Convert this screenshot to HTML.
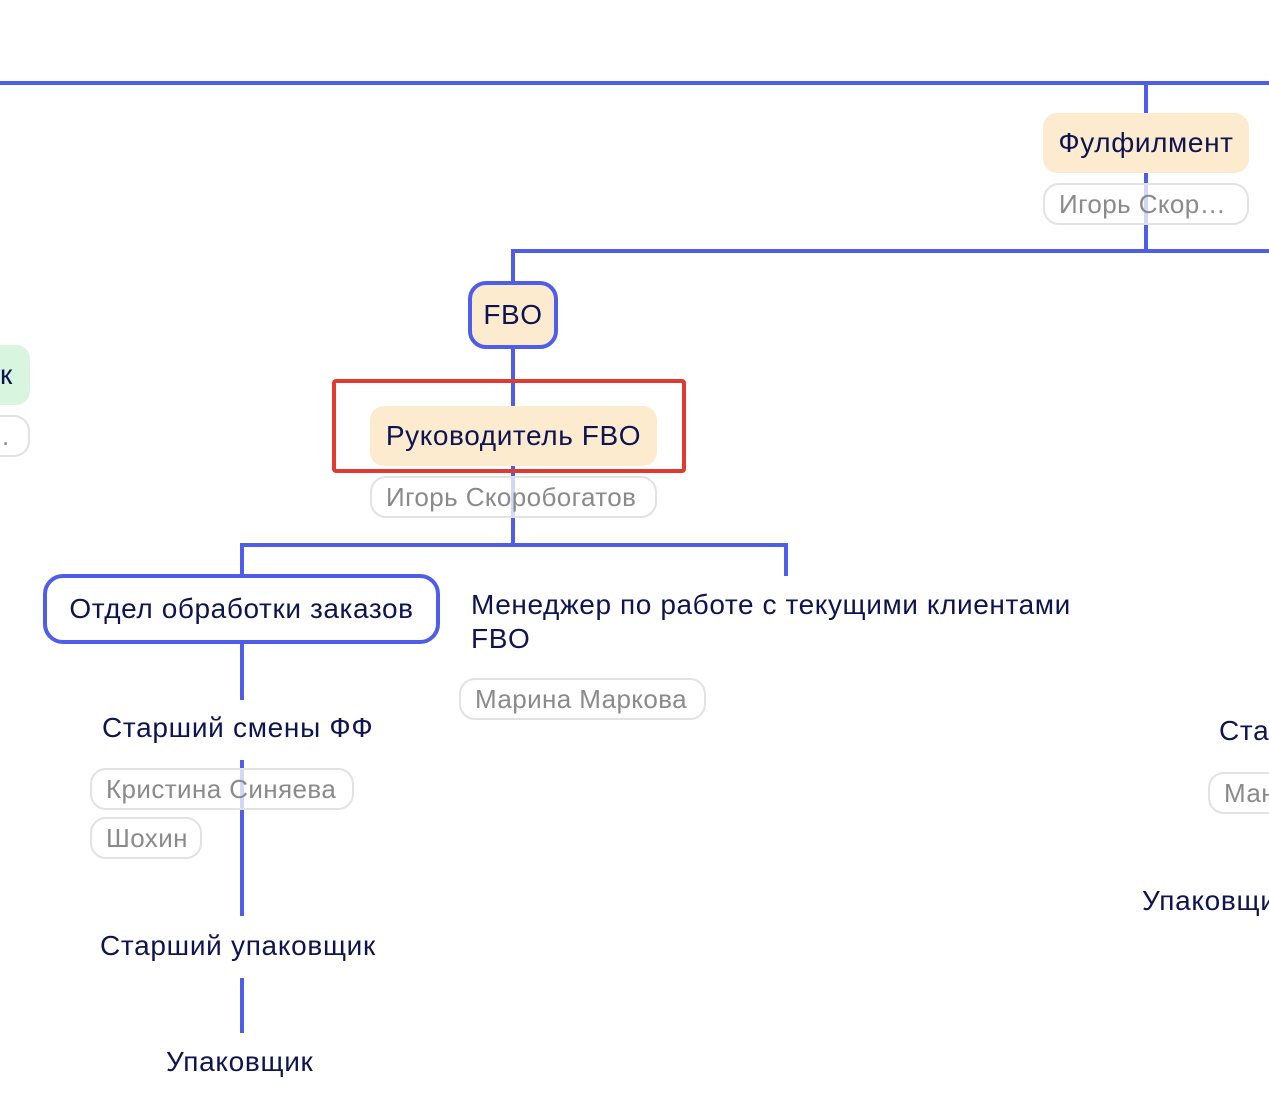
<!DOCTYPE html>
<html><head><meta charset="utf-8"><style>
body{margin:0;width:1269px;height:1118px;background:#fff;position:relative;overflow:hidden;font-family:"Liberation Sans","Noto Sans CJK SC",sans-serif;color:#0d1450}
.l{position:absolute;background:#4f5ee8}
.a{position:absolute;white-space:nowrap}
.n{position:absolute;background:#fdebd0;border-radius:14px;font-size:28px;letter-spacing:0.6px;display:flex;align-items:center;justify-content:center;white-space:nowrap}
.p{position:absolute;border:2px solid #e2e2e2;border-radius:16px;background:rgba(255,255,255,.75);color:#8a8a8a;font-size:26px;letter-spacing:0.4px;display:flex;align-items:center;padding:0 14px;box-sizing:border-box;white-space:nowrap;height:42px;overflow:hidden}
.t{position:absolute;font-size:28px;letter-spacing:0.7px;white-space:nowrap;background:#fff}
</style></head><body>
<div class="l" style="left:0;top:81px;width:1269px;height:4px"></div>
<div class="l" style="left:1144px;top:81px;width:4px;height:171px"></div>
<div class="l" style="left:511px;top:249px;width:758px;height:4px"></div>
<div class="l" style="left:511px;top:249px;width:4px;height:296px"></div>
<div class="l" style="left:240px;top:543px;width:547px;height:4px"></div>
<div class="l" style="left:784px;top:543px;width:4px;height:33px"></div>
<div class="l" style="left:240px;top:543px;width:4px;height:157px"></div>
<div class="l" style="left:240px;top:760px;width:4px;height:156px"></div>
<div class="l" style="left:240px;top:978px;width:4px;height:55px"></div>

<div class="n" style="left:1043px;top:113px;width:206px;height:60px">Фулфилмент</div>
<div class="p" style="left:1043px;top:183px;width:206px">Игорь Скор…</div>

<div class="n" style="left:0;top:345px;width:30px;height:60px;background:#d8f5df;border-radius:0 14px 14px 0;justify-content:flex-start;padding-left:0;box-sizing:border-box">к</div>
<div class="p" style="left:0;top:415px;width:30px;border-left:none;border-radius:0 16px 16px 0;padding:0 0 0 2px">.</div>

<div class="n" style="left:468px;top:281px;width:90px;height:68px;border:4px solid #4f5ee8;box-sizing:border-box;border-radius:18px">FBO</div>

<div class="n" style="left:370px;top:406px;width:287px;height:60px">Руководитель FBO</div>
<div style="position:absolute;left:332px;top:379px;width:354px;height:94px;border:4px solid #e23a30;border-radius:4px;box-sizing:border-box"></div>
<div class="p" style="left:370px;top:476px;width:287px">Игорь Скоробогатов</div>

<div class="a" style="left:43px;top:574px;width:397px;height:70px;border:4px solid #4f5ee8;border-radius:20px;box-sizing:border-box;background:#fff;font-size:28px;letter-spacing:0.6px;display:flex;align-items:center;justify-content:center">Отдел обработки заказов</div>

<div class="a" style="left:471px;top:588px;font-size:28px;letter-spacing:0.6px;line-height:34px">Менеджер по работе с текущими клиентами<br>FBO</div>
<div class="p" style="left:459px;top:678px;width:247px">Марина Маркова</div>

<div class="t" style="left:102px;top:712px">Старший смены ФФ</div>
<div class="p" style="left:90px;top:768px;width:264px">Кристина Синяева</div>
<div class="p" style="left:90px;top:817px;width:112px">Шохин</div>

<div class="t" style="left:100px;top:930px">Старший упаковщик</div>
<div class="t" style="left:166px;top:1046px">Упаковщик</div>

<div class="t" style="left:1219px;top:715px;width:50px;overflow:hidden">Ста</div>
<div class="p" style="left:1208px;top:772px;width:61px;border-right:none;border-radius:16px 0 0 16px">Ман</div>
<div class="t" style="left:1142px;top:885px;width:127px;overflow:hidden">Упаковщи</div>
</body></html>
